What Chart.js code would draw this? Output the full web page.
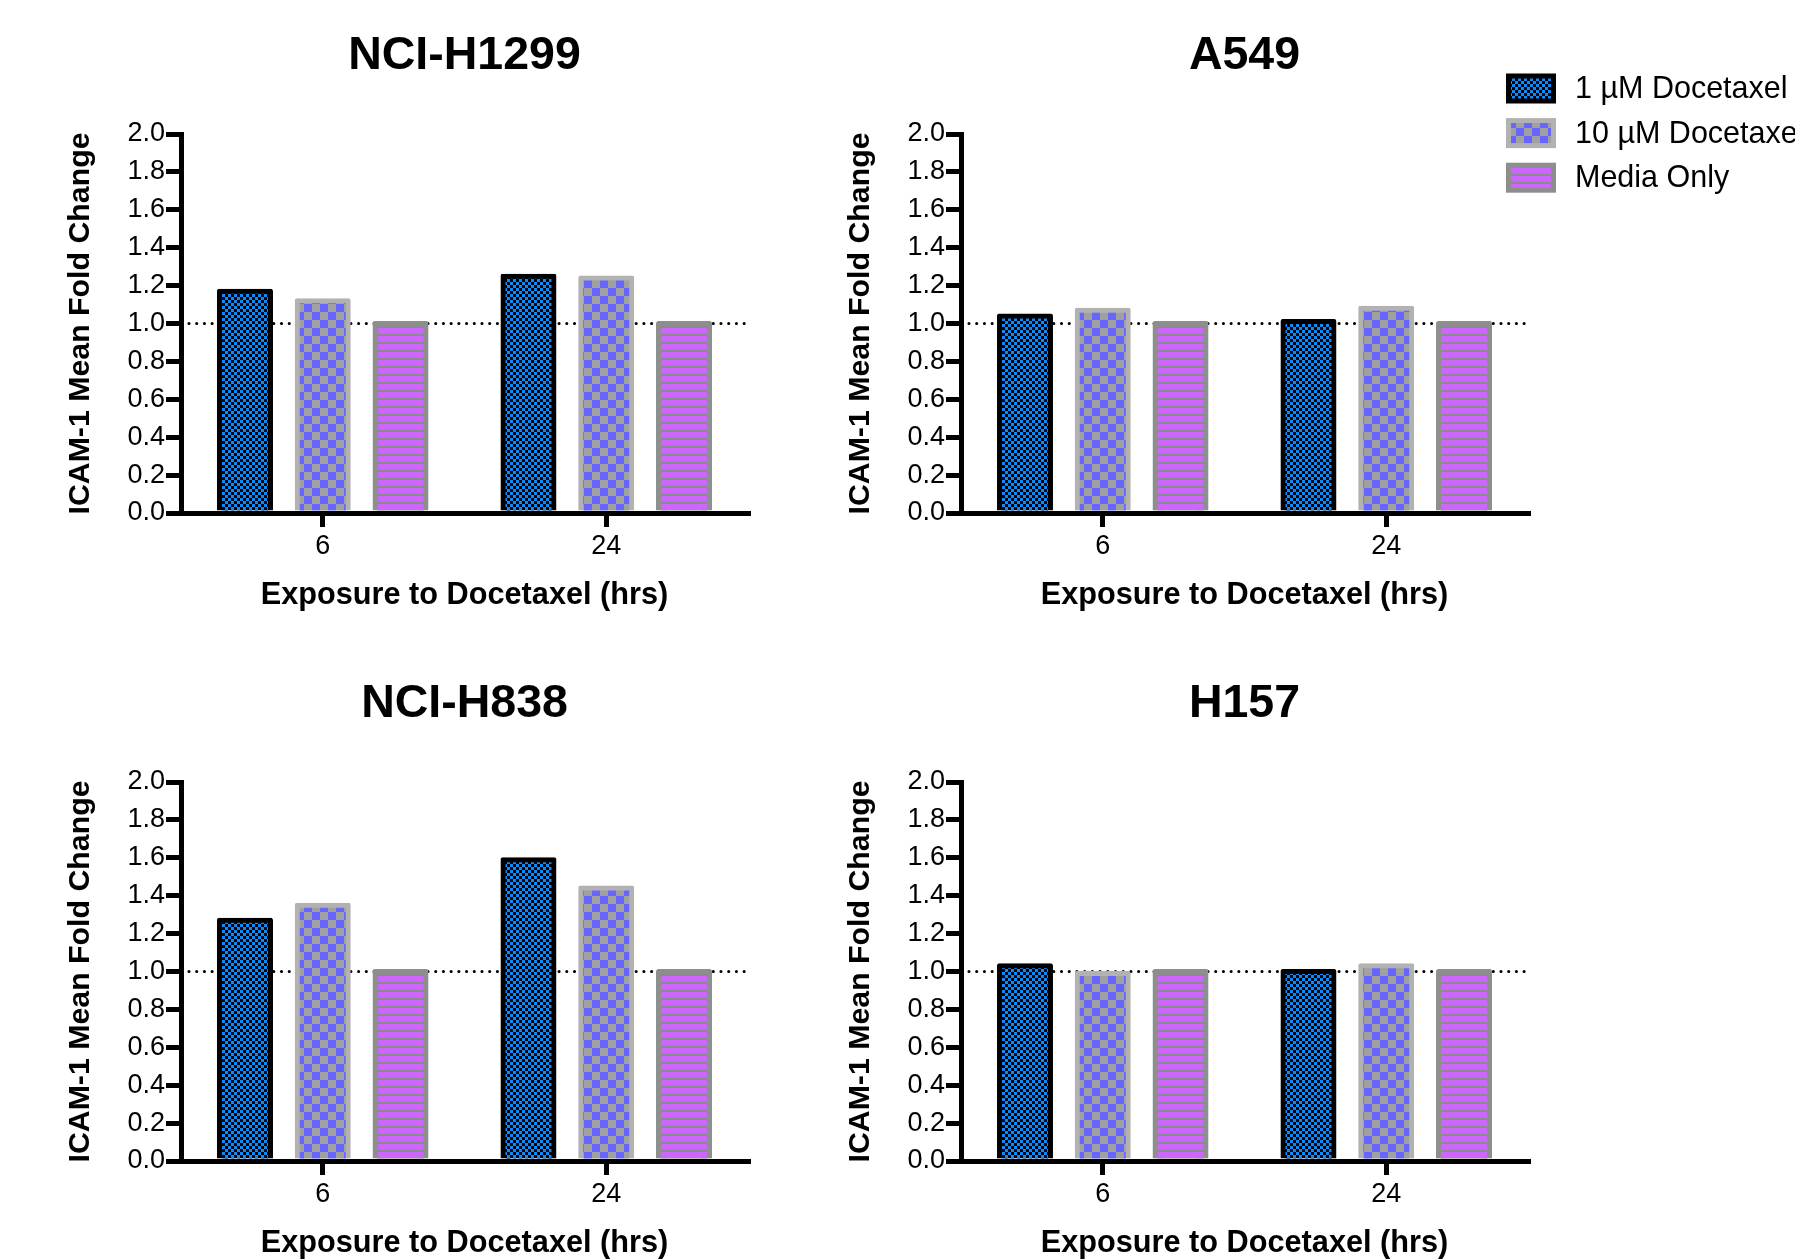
<!DOCTYPE html>
<html><head><meta charset="utf-8">
<script src="https://cdn.jsdelivr.net/npm/chart.js@4.4.1/dist/chart.umd.min.js"></script>
<style>
html,body{margin:0;padding:0;background:#fff;overflow:hidden;width:1795px;height:1259px;}
canvas{position:absolute;}
</style></head><body>
<canvas id="c1" width="780" height="620" style="left:0;top:0"></canvas>
<canvas id="c2" width="1015" height="620" style="left:780px;top:0"></canvas>
<canvas id="c3" width="780" height="620" style="left:0;top:648px"></canvas>
<canvas id="c4" width="1015" height="620" style="left:780px;top:648px"></canvas>
<script>
// ---- data ----
const categories = ['6', '24'];
const seriesLabels = ['1 µM Docetaxel', '10 µM Docetaxel', 'Media Only'];
const panelTitles = ['NCI-H1299', 'A549', 'NCI-H838', 'H157'];
const yAxisTitle = 'ICAM-1 Mean Fold Change';
const xAxisTitle = 'Exposure to Docetaxel (hrs)';
const referenceLevel = 1.0;

const h1299_1uM   = [1.17, 1.25];
const h1299_10uM  = [1.12, 1.24];
const h1299_media = [1.00, 1.00];

const a549_1uM    = [1.04, 1.01];
const a549_10uM   = [1.07, 1.08];
const a549_media  = [1.00, 1.00];

const h838_1uM    = [1.27, 1.59];
const h838_10uM   = [1.35, 1.44];
const h838_media  = [1.00, 1.00];

const h157_1uM    = [1.03, 1.00];
const h157_10uM   = [0.99, 1.03];
const h157_media  = [1.00, 1.00];

// ---- styling ----
const F = '"Liberation Sans", Arial, Helvetica, sans-serif';
Chart.defaults.color = '#000';
Chart.defaults.font.family = F;

function checker(cell, bg, fg) {
  const cv = document.createElement('canvas');
  cv.width = cv.height = cell * 2;
  const g = cv.getContext('2d');
  g.fillStyle = bg; g.fillRect(0, 0, cell * 2, cell * 2);
  g.fillStyle = fg; g.fillRect(0, 0, cell, cell); g.fillRect(cell, cell, cell, cell);
  return g.createPattern(cv, 'repeat');
}
function stripes(period, line, bg, fg) {
  const cv = document.createElement('canvas');
  cv.width = 4; cv.height = period;
  const g = cv.getContext('2d');
  g.fillStyle = bg; g.fillRect(0, 0, 4, period);
  g.fillStyle = fg; g.fillRect(0, period - line, 4, line);
  return g.createPattern(cv, 'repeat');
}
const fills = [checker(3, '#000000', '#0a8cff'), checker(8, '#a0a0a0', '#6666ff'), stripes(8, 2, '#cc66ff', '#8a8a8a')];
const borders = ['#000000', '#b2b2b2', '#8e8e8e'];

const refLine = {
  id: 'refLine',
  beforeDatasetsDraw(chart, args, opts) {
    const {ctx, chartArea: {left, right}, scales: {y}} = chart;
    const py = y.getPixelForValue(opts.value);
    ctx.save();
    ctx.beginPath();
    ctx.setLineDash([0.01, 7.7]);
    ctx.lineCap = 'round';
    ctx.lineWidth = 3.1;
    ctx.strokeStyle = '#000';
    ctx.moveTo(left + 8, py);
    ctx.lineTo(right, py);
    ctx.stroke();
    ctx.restore();
  }
};

const panelLegend = {
  id: 'panelLegend',
  afterDraw(chart, args, opts) {
    if (!opts.display) return;
    const ctx = chart.ctx;
    ctx.save();
    chart.data.datasets.forEach((ds, i) => {
      const cy = opts.y0 + i * opts.dy;
      const x = opts.x, w = opts.boxW, h = opts.boxH, b = opts.boxBorder;
      ctx.fillStyle = ds.borderColor;
      ctx.fillRect(x, cy - h / 2, w, h);
      ctx.fillStyle = ds.backgroundColor;
      ctx.fillRect(x + b, cy - h / 2 + b, w - 2 * b, h - 2 * b);
      ctx.fillStyle = '#000';
      ctx.font = opts.fontSize + 'px ' + F;
      ctx.textBaseline = 'middle';
      ctx.textAlign = 'left';
      ctx.fillText(ds.label, opts.textX, cy + 1);
    });
    ctx.restore();
  }
};

function makeChart(id, title, s1, s2, s3, showLegend) {
  const series = [s1, s2, s3];
  return new Chart(document.getElementById(id), {
    type: 'bar',
    data: {
      labels: categories,
      datasets: series.map((d, i) => ({
        label: seriesLabels[i],
        data: d,
        backgroundColor: fills[i],
        borderColor: borders[i],
        borderWidth: 5,
        inflateAmount: 2.5,
        borderRadius: 2,
        borderSkipped: 'start',
        categoryPercentage: 0.823,
        barPercentage: 0.656
      }))
    },
    options: {
      responsive: false,
      animation: false,
      layout: {padding: {left: 0, top: 0, bottom: 0, right: id === 'c1' || id === 'c3' ? 32 : 267}},
      plugins: {
        legend: {display: false},
        tooltip: {enabled: false},
        title: {
          display: true, text: title, fullSize: false, color: '#000',
          font: {size: 46.5, weight: 'bold', family: F},
          padding: {top: 28.4, bottom: 49.8}
        },
        refLine: {value: referenceLevel},
        panelLegend: {display: showLegend, x: 726, boxW: 50, boxH: 30, boxBorder: 5,
                      y0: 88.5, dy: 44.6, textX: 795, fontSize: 30.5}
      },
      scales: {
        x: {
          offset: true,
          afterFit(s) { s.height = 107; },
          grid: {display: true, offset: false, drawOnChartArea: false, drawTicks: true,
                 tickLength: 14, lineWidth: 5, color: '#000'},
          border: {display: true, width: 5, color: '#000'},
          ticks: {color: '#000', font: {size: 27, family: F}, padding: 3, maxRotation: 0},
          title: {display: true, text: xAxisTitle, color: '#000',
                  font: {size: 30.7, weight: 'bold', family: F}, padding: {top: 0, bottom: 6.5}}
        },
        y: {
          min: 0, max: 2,
          afterFit(s) { s.width = 181; },
          grid: {display: true, drawOnChartArea: false, drawTicks: true,
                 tickLength: 15, lineWidth: 5, color: '#000'},
          border: {display: true, width: 5, color: '#000'},
          ticks: {stepSize: 0.2, color: '#000', font: {size: 27, family: F}, padding: 1,
                  callback: v => Number(v).toFixed(1)},
          title: {display: true, text: yAxisTitle, color: '#000',
                  font: {size: 30.3, weight: 'bold', family: F}, padding: {top: 62, bottom: 0}}
        }
      }
    },
    plugins: [refLine, panelLegend]
  });
}

makeChart('c1', panelTitles[0], h1299_1uM, h1299_10uM, h1299_media, false);
makeChart('c2', panelTitles[1], a549_1uM, a549_10uM, a549_media, true);
makeChart('c3', panelTitles[2], h838_1uM, h838_10uM, h838_media, false);
makeChart('c4', panelTitles[3], h157_1uM, h157_10uM, h157_media, false);
</script>
</body></html>
